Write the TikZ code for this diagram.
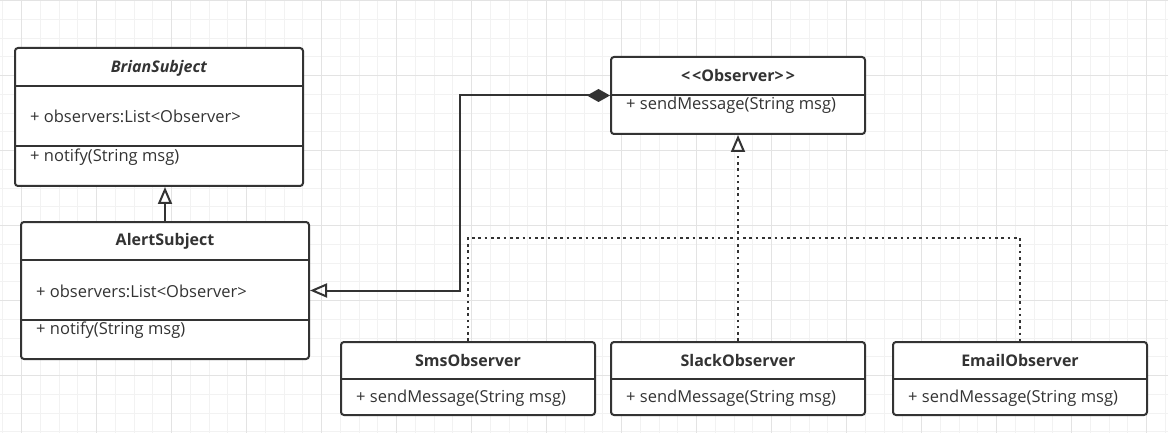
\documentclass[tikz,border=0pt]{standalone}
\usepackage{fontspec}
\setmainfont{Open Sans}
\usetikzlibrary{arrows.meta}
\usetikzlibrary{calc}
\usepackage{xcolor}
\definecolor{umlgray}{HTML}{333333}
\definecolor{gridminor}{HTML}{F2F2F2}
\definecolor{gridmajor}{HTML}{E3E3E3}

\begin{document}
\begin{tikzpicture}[x=1pt,y=-1pt,
    classbox/.style={draw=umlgray,line width=2pt,rounded corners=3pt,fill=white,inner sep=0pt},
    classname/.style={font=\fontsize{16}{18}\selectfont\bfseries,text=umlgray,inner sep=0pt},
    member/.style={font=\fontsize{16.5}{18}\selectfont,text=umlgray,inner sep=0pt,anchor=west},
    gen/.style={draw=umlgray,line width=2pt,-{Triangle[open,length=17pt,width=14pt,line width=2pt]}},
    comp/.style={draw=umlgray,line width=2pt,{Diamond[length=23pt,width=13pt]}-{Triangle[open,length=17pt,width=14pt,line width=2pt]}},
    real/.style={draw=umlgray,line width=2.6pt,dash pattern=on 2.6pt off 3.7pt},
    realarrow/.style={real,-{Triangle[open,length=17pt,width=14pt,line width=2pt,sep=0pt]}}]
  \useasboundingbox[fill=white] (0,0) rectangle (1168,433);
  \foreach \gx in {0,...,62} \draw[gridminor,line width=1pt] (2.95+18.75*\gx,0) -- (2.95+18.75*\gx,433);
  \foreach \gy in {0,...,23} \draw[gridminor,line width=1pt] (0,0.7+18.75*\gy) -- (1168,0.7+18.75*\gy);
  \foreach \gx in {0,...,15} \draw[gridmajor,line width=1pt] (21.7+75*\gx,0) -- (21.7+75*\gx,433);
  \foreach \gy in {0,...,5} \draw[gridmajor,line width=1pt] (0,0.7+75*\gy) -- (1168,0.7+75*\gy);

  \node[classbox,minimum width=288pt,minimum height=138pt] (brian) at (159,117) {};
  \draw[umlgray,line width=2pt] (15,86) -- (303,86);
  \draw[umlgray,line width=2pt] (15,146) -- (303,146);
  \node[classname] (briant) at (159,68) {\textit{BrianSubject}};
  \node[member] (briana) at (30,116) {+ observers:List<Observer>};
  \node[member] (brianm) at (30,157) {+ notify(String msg)};

  \node[classbox,minimum width=288pt,minimum height=137pt] (alert) at (165,290.5) {};
  \draw[umlgray,line width=2pt] (21,260) -- (309,260);
  \draw[umlgray,line width=2pt] (21,320) -- (309,320);
  \node[classname] (alertt) at (165,241) {AlertSubject};
  \node[member] (alerta) at (36,291) {+ observers:List<Observer>};
  \node[member] (alertm) at (36,330) {+ notify(String msg)};

  \node[classbox,minimum width=254pt,minimum height=77pt] (observer) at (738,95.5) {};
  \draw[umlgray,line width=2pt] (611,95) -- (865,95);
  \node[classname] (observert) at (738,76) {<\kern2pt<Observer>\kern2pt>};
  \node[member] (observerm) at (626,105) {+ sendMessage(String msg)};

  \node[classbox,minimum width=254pt,minimum height=73pt] (sms) at (468,378.5) {};
  \draw[umlgray,line width=2pt] (341,379) -- (595,379);
  \node[classname] (smst) at (468,360) {SmsObserver};
  \node[member] (smsm) at (356,398) {+ sendMessage(String msg)};

  \node[classbox,minimum width=254pt,minimum height=73pt] (slack) at (738,378.5) {};
  \draw[umlgray,line width=2pt] (611,379) -- (865,379);
  \node[classname] (slackt) at (738,360) {SlackObserver};
  \node[member] (slackm) at (626,398) {+ sendMessage(String msg)};

  \node[classbox,minimum width=254pt,minimum height=73pt] (email) at (1020,378.5) {};
  \draw[umlgray,line width=2pt] (893,379) -- (1147,379);
  \node[classname] (emailt) at (1020,360) {EmailObserver};
  \node[member] (emailm) at (908,398) {+ sendMessage(String msg)};

  \coordinate (bus) at (738,238);
  \draw[gen] (alert.north) -- (alert.north |- brian.south);
  \draw[comp] (observer.west) -- ++(-150,0) |- (alert.east);
  \draw[realarrow] (slack.north) -- (observer.south);
  \draw[real] (sms.north) |- (bus) -| (email.north);
\end{tikzpicture}
\end{document}
